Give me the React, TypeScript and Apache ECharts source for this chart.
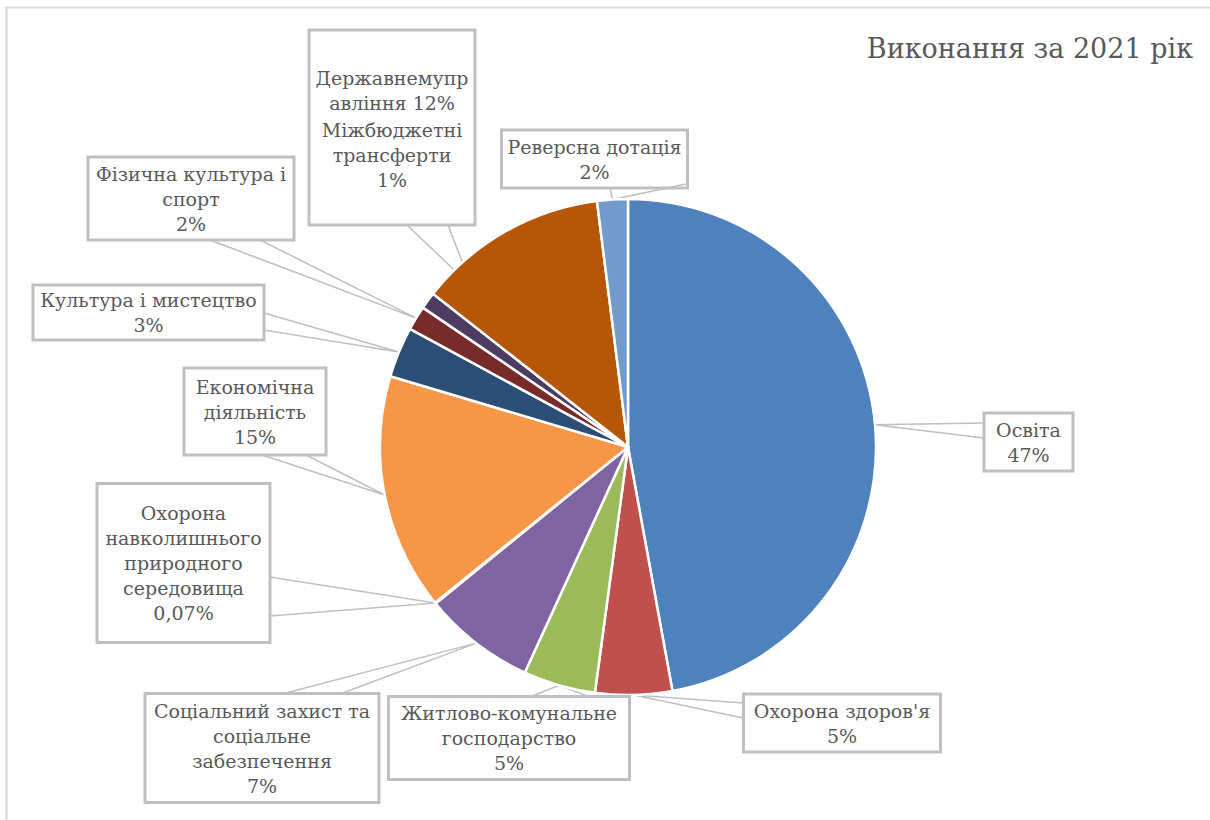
import React, { useEffect, useRef } from "react";
import * as echarts from "echarts";

// ---- data ----
const categories = [
  "Освіта",
  "Охорона здоров'я",
  "Житлово-комунальне господарство",
  "Соціальний захист та соціальне забезпечення",
  "Охорона навколишнього природного середовища",
  "Економічна діяльність",
  "Культура і мистецтво",
  "Фізична культура і спорт",
  "Міжбюджетні трансферти",
  "Державне управління",
  "Реверсна дотація",
];
const values = [47.13, 5.0, 4.7, 7.3, 0.07, 15.4, 3.3, 1.6, 1.1, 12.4, 2.0];
const labelTexts = [
  "Освіта",
  "Охорона здоров'я",
  "Житлово-комунальне\nгосподарство",
  "Соціальний захист та\nсоціальне\nзабезпечення",
  "Охорона\nнавколишнього\nприродного\nсередовища",
  "Економічна\nдіяльність",
  "Культура і мистецтво",
  "Фізична культура і\nспорт",
  "Міжбюджетні\nтрансферти",
  "Державнемупр\nавління",
  "Реверсна дотація",
];
const inlinePercent = ["Державне управління"];
const colors = [
  "#4F81BD", "#C0504D", "#9BBB59", "#8064A2", "#4BACC6", "#F79646",
  "#2C4D75", "#772C2A", "#4D3B62", "#B65708", "#729ACA",
];
const title = "Виконання за 2021 рік";

// ---- layout (callout boxes) ----
type Box = {
  cx: number; cy: number; w: number; h: number;
  a1?: number[]; a2?: number[]; tip?: number[]; extraLines?: number; plain?: boolean;
};
const boxes: Box[] = [
  { cx: 1028.5, cy: 442, w: 89, h: 58, a1: [984, 423], a2: [984, 438] },
  { cx: 842, cy: 723, w: 197, h: 58, a1: [743, 703], a2: [743, 718] },
  { cx: 509, cy: 738, w: 241, h: 83, a1: [530, 697], a2: [590, 697] },
  { cx: 262, cy: 748, w: 234, h: 109, a1: [282, 694], a2: [340, 694] },
  { cx: 183.5, cy: 563, w: 173, h: 159, a1: [270, 577], a2: [270, 616] },
  { cx: 255, cy: 411.5, w: 142, h: 87, a1: [262, 455], a2: [306, 455] },
  { cx: 148.5, cy: 312.5, w: 231, h: 55, a1: [264, 313], a2: [264, 330] },
  { cx: 191, cy: 198.5, w: 206, h: 83, a1: [210, 240], a2: [260, 240] },
  { cx: 392, cy: 155, w: 0, h: 0, plain: true },
  { cx: 392, cy: 127.5, w: 166, h: 195, a1: [407, 225], a2: [448, 225], tip: [472, 287], extraLines: 3 },
  { cx: 594.5, cy: 159, w: 186, h: 58, a1: [610, 188], a2: [686, 184] },
];

const FONT = "'DejaVu Serif', 'Liberation Serif', serif";
const TEXT_COLOR = "#595959";
const LH = 25;

function pctText(p: number): string {
  if (p < 0.5) return p.toFixed(2).replace(".", ",") + "%";
  return Math.round(p) + "%";
}

export default function App() {
  const ref = useRef<HTMLDivElement>(null);

  useEffect(() => {
    document.body.style.margin = "0";
    if (!ref.current) return;
    const chart = echarts.init(ref.current, undefined, { renderer: "svg" });

    const data = categories.map((name, i) => {
      const b = boxes[i];
      const inline = inlinePercent.includes(name);
      const ownLines = labelTexts[i].split("\n").length + (inline ? 0 : 1);
      const item: any = {
        name,
        value: values[i],
        itemStyle: { color: colors[i] },
      };
      if (b.plain) {
        item.label = { backgroundColor: "transparent", borderWidth: 0, padding: 0 };
        item.labelLine = { show: false };
      } else {
        const total = ownLines + (b.extraLines || 0);
        const padV = (b.h - total * LH) / 2;
        item.label = { width: b.w, padding: [padV, 0, padV, 0] };
      }
      return item;
    });

    chart.setOption({
      animation: false,
      backgroundColor: "#ffffff",
      graphic: [
        {
          type: "rect",
          shape: { x: 6.5, y: 7.5, width: 1400, height: 1000 },
          style: { fill: "none", stroke: "#d9d9d9", lineWidth: 2 },
          silent: true,
          z: -10,
        },
        {
          type: "text",
          right: 17,
          top: 35,
          style: {
            text: title,
            font: `27px ${FONT}`,
            fill: TEXT_COLOR,
          },
        },
      ],
      series: [
        {
          type: "pie",
          center: [628, 447],
          radius: 248,
          startAngle: 90,
          clockwise: true,
          avoidLabelOverlap: false,
          itemStyle: { borderColor: "#ffffff", borderWidth: 2.5 },
          emphasis: { disabled: true },
          label: {
            show: true,
            position: "outside",
            alignTo: "none",
            overflow: "none",
            color: TEXT_COLOR,
            fontFamily: FONT,
            fontSize: 19,
            lineHeight: LH,
            align: "center",
            backgroundColor: "transparent",
            borderColor: "#bfbfbf",
            borderWidth: 1.5,
            formatter: (p: any) => {
              const name = p.name as string;
              const idx = categories.indexOf(name);
              const sep = inlinePercent.includes(name) ? " " : "\n";
              const extra = boxes[idx].extraLines || 0;
              // reserve blank lines beneath so the text sits at the top of a shared callout
              return labelTexts[idx] + sep + pctText(p.percent) + "\n ".repeat(extra);
            },
          },
          labelLine: {
            show: true,
            length: 10,
            length2: 10,
            smooth: false,
            lineStyle: { color: "#bfbfbf", width: 1.5 },
          },
          labelLayout: (p: any) => {
            const b = boxes[p.dataIndex];
            const res: any = { x: b.cx, y: b.cy, align: "center", verticalAlign: "middle" };
            if (!b.plain && p.labelLinePoints && b.a1 && b.a2) {
              const tip = b.tip || p.labelLinePoints[0];
              res.labelLinePoints = [b.a1, tip, b.a2];
            }
            return res;
          },
          data,
        },
      ],
    });

    return () => chart.dispose();
  }, []);

  return <div ref={ref} style={{ width: 1210, height: 820 }} />;
}
